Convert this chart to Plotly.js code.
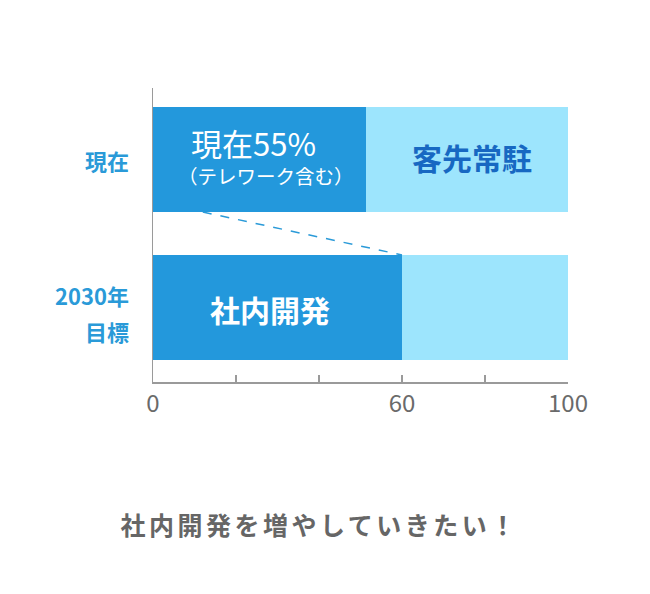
<!DOCTYPE html>
<html>
<head>
<meta charset="utf-8">
<script src="https://cdn.plot.ly/plotly-3.0.1.min.js"></script>
<style>
  html, body { margin: 0; padding: 0; background: #fff; }
  #chart { width: 650px; height: 594px; }
  /* the closing message is letter-spaced in the original */
  .annotation[data-index="4"] .annotation-text { letter-spacing: 3.5px; }
</style>
</head>
<body>
<div id="chart"></div>
<script>
// data
const categories = ["現在", "2030年目標"];
const categoryLines = [["現在"], ["2030年", "目標"]];  // how each label wraps
const inhouseValues = [51.3, 60];   // 社内開発
const onsiteValues = [48.7, 40];    // 客先常駐
const tickValues = [0, 20, 40, 60, 80, 100];
const tickLabels = ["0", "", "", "60", "", "100"];
const connectorX = [12, 60];        // dashed guide: from bottom of 現在 to top of 2030

const barWidth = 0.71;
const font = "Noto Sans CJK JP, Noto Sans, sans-serif";
const blue = "#2398dc";
const lightBlue = "#9de5fd";
const labelBlue = "#2a9ad8";

const trace1 = {
    type: "bar",
    orientation: "h",
    x: inhouseValues,
    y: categories,
    width: barWidth,
    marker: { color: blue },
    hoverinfo: "skip",
    showlegend: false
};

const trace2 = {
    type: "bar",
    orientation: "h",
    x: onsiteValues,
    y: categories,
    width: barWidth,
    marker: { color: lightBlue },
    hoverinfo: "skip",
    showlegend: false
};

// in-bar labels and the message underneath (index 4 gets the letter-spacing)
const annotations = [
    {
        text: "現在55%",
        x: 24.3, y: -0.118, xref: "x", yref: "y",
        showarrow: false,
        font: { size: 31, color: "#fff", family: font }
    },
    {
        text: "（テレワーク含む）",
        x: 27.3, y: 0.105, xref: "x", yref: "y",
        showarrow: false,
        font: { size: 19.5, color: "#fff", family: font }
    },
    {
        text: "客先常駐",
        x: 76.9, y: -0.017, xref: "x", yref: "y",
        showarrow: false,
        font: { size: 30, color: "#1768c2", family: font, weight: "bold" }
    },
    {
        text: "社内開発",
        x: 28.2, y: 1.01, xref: "x", yref: "y",
        showarrow: false,
        font: { size: 30, color: "#fff", family: font, weight: "bold" }
    },
    {
        text: "社内開発を増やしていきたい！",
        x: 0.402, y: -0.483, xref: "paper", yref: "paper",
        xanchor: "center", yanchor: "middle",
        showarrow: false,
        font: { size: 25, color: "#666", family: font, weight: "bold" }
    }
];

// category labels left of the axis, one annotation per line so the
// line gap can follow the original
const lineGap = 36;
categoryLines.forEach((lines, i) => {
    lines.forEach((line, j) => {
        const offset = lines.length === 1 ? 0 : 12.5 - j * lineGap;
        annotations.push({
            text: line,
            x: 0, xref: "paper", xanchor: "right", xshift: -22,
            y: categories[i], yref: "y", yshift: offset,
            showarrow: false,
            font: { size: 22, color: labelBlue, family: font, weight: "bold" }
        });
    });
});

const layout = {
    width: 650,
    height: 594,
    barmode: "stack",
    margin: { l: 153, r: 82, t: 88, b: 212 },
    paper_bgcolor: "#fff",
    plot_bgcolor: "#fff",
    font: { family: font, color: "#666" },

    xaxis: {
        range: [0, 100],
        tickvals: tickValues,
        ticktext: tickLabels,
        ticks: "inside",
        ticklen: 7,
        tickwidth: 1.3,
        tickcolor: "#9a9a9a",
        showline: true,
        linecolor: "#9a9a9a",
        linewidth: 1.5,
        showgrid: false,
        zeroline: false,
        tickfont: { size: 24, color: "#6a6a6a", family: font }
    },
    yaxis: {
        type: "category",
        range: [1.503, -0.483],
        showline: true,
        linecolor: "#9a9a9a",
        linewidth: 1.5,
        showgrid: false,
        zeroline: false,
        ticks: "",
        showticklabels: false
    },

    shapes: [
        {
            type: "line",
            xref: "x", yref: "y",
            x0: connectorX[0], y0: barWidth / 2,
            x1: connectorX[1], y1: 1 - barWidth / 2,
            line: { color: labelBlue, width: 1.5, dash: "dash" }
        }
    ],

    annotations: annotations
};

Plotly.newPlot("chart", [trace1, trace2], layout, { displayModeBar: false, staticPlot: true });
</script>
</body>
</html>
